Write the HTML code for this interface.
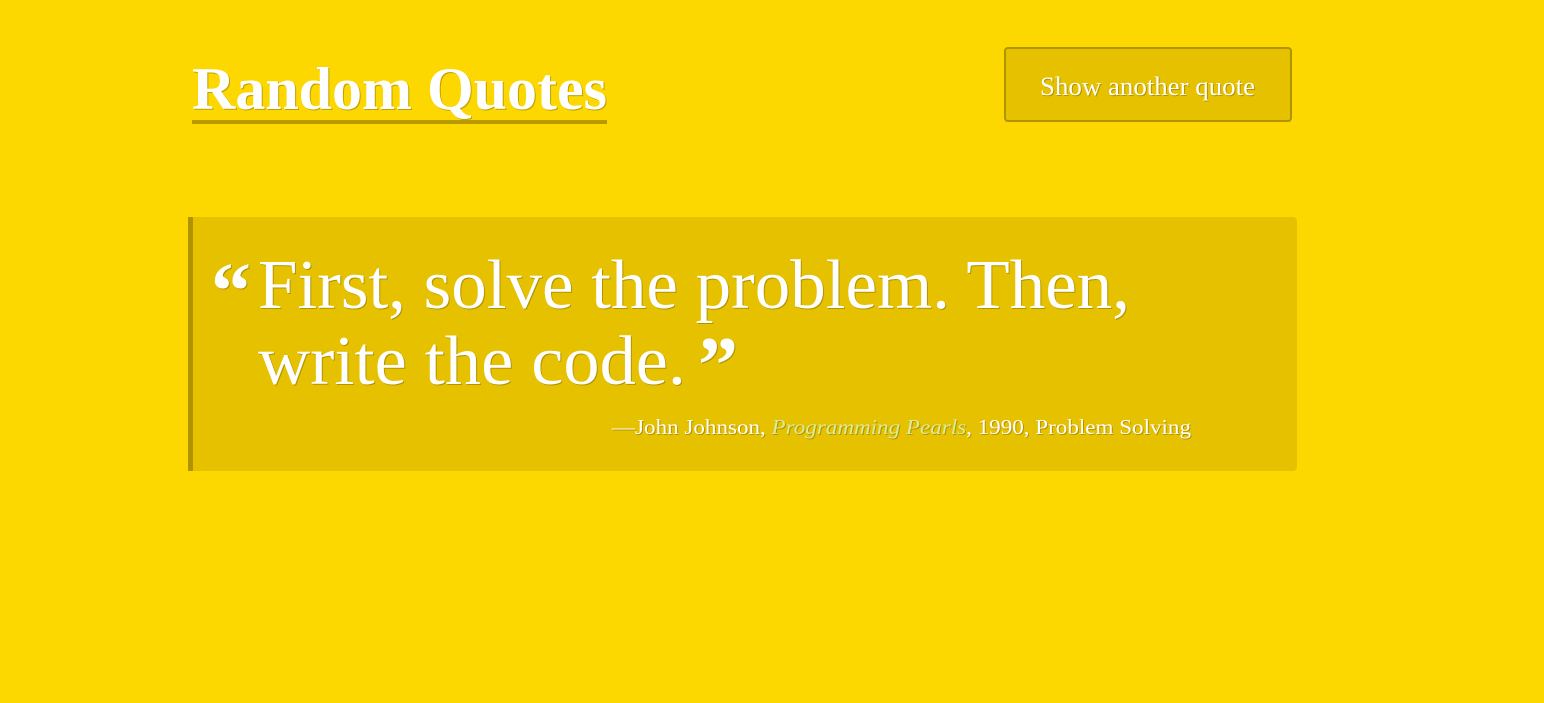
<!DOCTYPE html>
<html><head><meta charset="utf-8"><style>
html,body{margin:0;padding:0;background:#FDD700;width:1544px;height:703px;overflow:hidden}
svg{position:absolute;left:0;top:0}
text{font-family:"Liberation Serif",serif;fill:#fff}
.sh{filter:drop-shadow(1px 1px 0 rgba(120,90,0,0.45))}
</style></head><body>
<svg width="1544" height="703">
<g>
<text class="sh" x="192" y="109" font-size="60" font-weight="bold" textLength="415" lengthAdjust="spacingAndGlyphs">Random Quotes</text>
<rect x="192" y="120" width="415" height="4" fill="#B89A00"/>
</g>
<g>
<rect x="1005" y="48" width="286" height="73" rx="3" fill="#E5C100" stroke="#B09300" stroke-width="2"/>
<text class="sh" x="1040" y="95" font-size="26" textLength="215" lengthAdjust="spacingAndGlyphs">Show another quote</text>
</g>
<g>
<rect x="188" y="217" width="1109" height="254" rx="4" fill="#E5C100"/>
<rect x="188" y="217" width="5" height="254" fill="#B09300"/>
<text class="sh" x="211" y="318" font-size="80" font-weight="bold">“</text>
<text class="sh" x="258" y="308" font-size="70" textLength="872" lengthAdjust="spacingAndGlyphs">First, solve the problem. Then,</text>
<text class="sh" x="258" y="384" font-size="70" textLength="428" lengthAdjust="spacingAndGlyphs">write the code.</text>
<text class="sh" x="698" y="392" font-size="80" font-weight="bold">”</text>
<text class="sh" x="612" y="434" font-size="21" textLength="579" lengthAdjust="spacingAndGlyphs">—John Johnson, <tspan font-style="italic" fill="#D8EC9C">Programming Pearls</tspan>, 1990, Problem Solving</text>
</g>
</svg>
</body></html>
